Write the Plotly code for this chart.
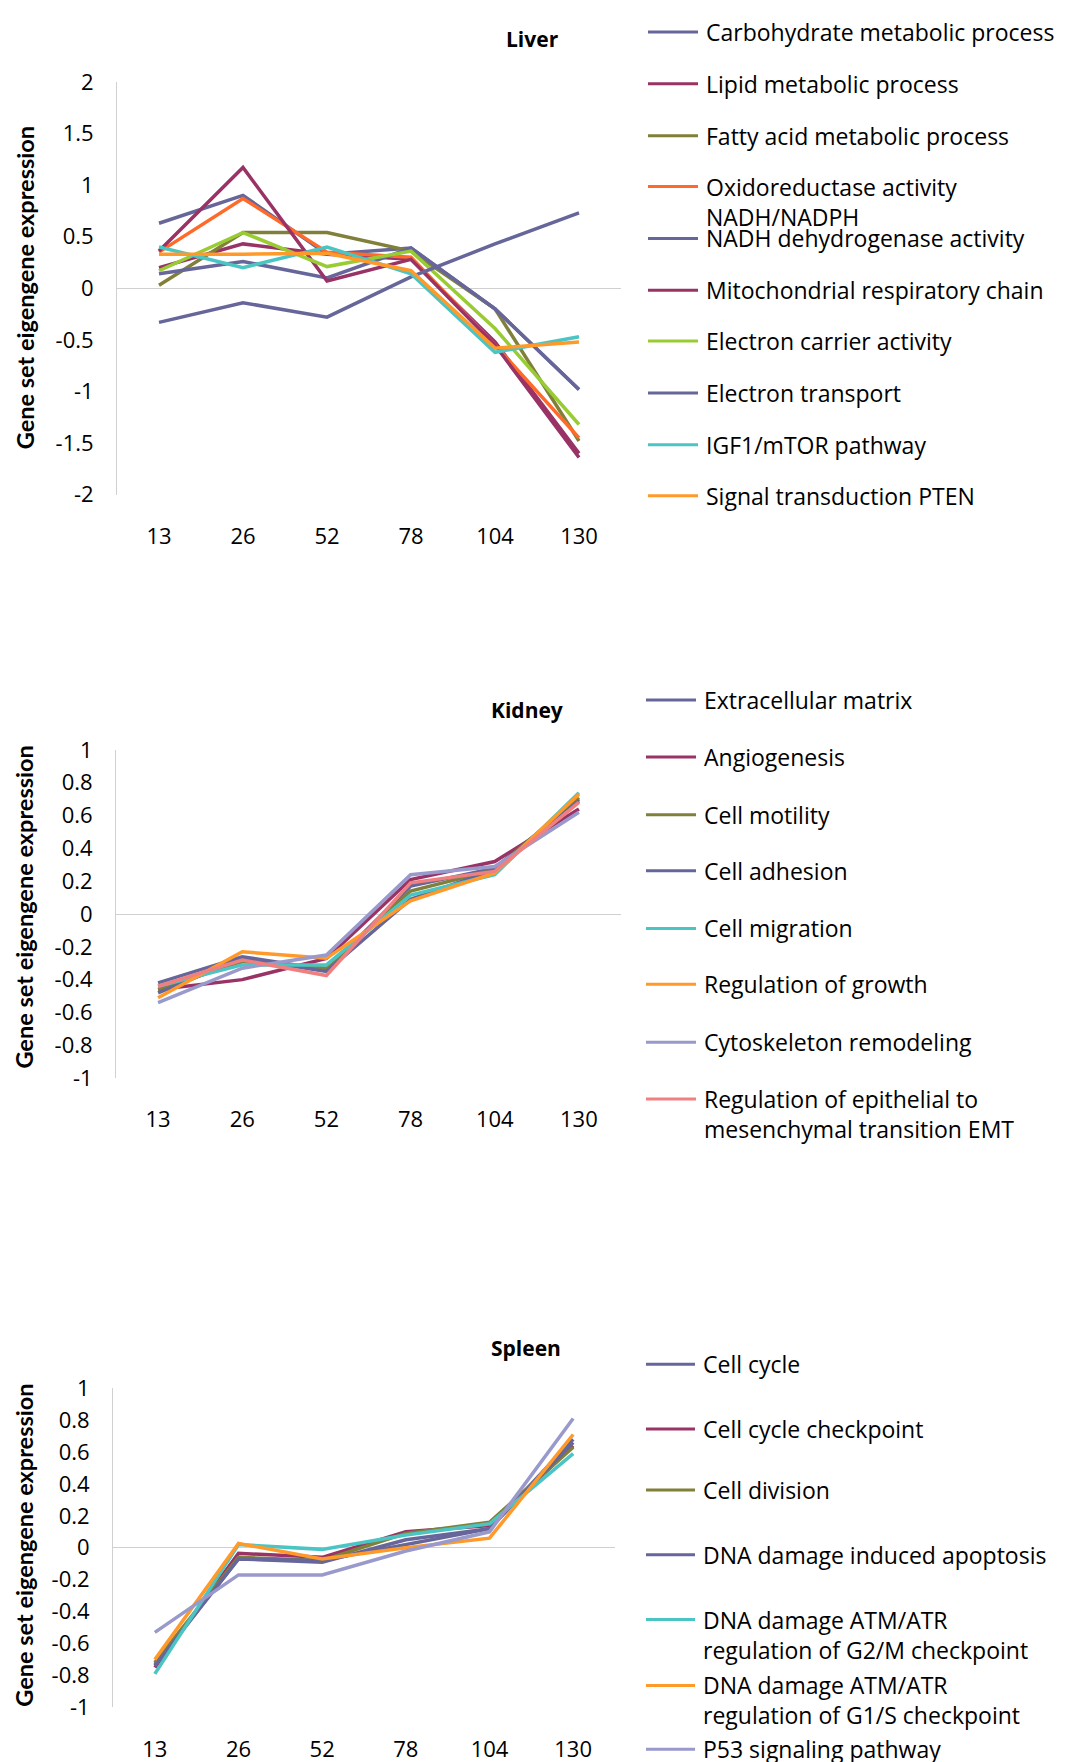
import plotly.graph_objects as go

weeks = ["13", "26", "52", "78", "104", "130"]
liver_ticks = [-2, -1.5, -1, -0.5, 0, 0.5, 1, 1.5, 2]
organ_ticks = [-1, -0.8, -0.6, -0.4, -0.2, 0, 0.2, 0.4, 0.6, 0.8, 1]

# ---------------- Liver ----------------
liver_names = [
    "Carbohydrate metabolic process",
    "Lipid metabolic process",
    "Fatty acid metabolic process",
    "Oxidoreductase activity<br>NADH/NADPH",
    "NADH dehydrogenase activity",
    "Mitochondrial respiratory chain",
    "Electron carrier activity",
    "Electron transport",
    "IGF1/mTOR pathway",
    "Signal transduction PTEN",
]
liver_carbohydrate = [0.63, 0.90, 0.33, 0.39, -0.20, -0.98]
liver_lipid = [0.20, 0.43, 0.33, 0.28, -0.52, -1.60]
liver_fatty_acid = [0.03, 0.54, 0.54, 0.36, -0.20, -1.48]
liver_oxidoreductase = [0.35, 0.87, 0.35, 0.30, -0.55, -1.45]
liver_nadh = [0.14, 0.26, 0.10, 0.39, -0.20, -0.98]
liver_mito = [0.36, 1.17, 0.07, 0.28, -0.55, -1.64]
liver_e_carrier = [0.17, 0.54, 0.21, 0.36, -0.39, -1.32]
liver_e_transport = [-0.33, -0.14, -0.28, 0.11, 0.43, 0.73]
liver_igf1 = [0.40, 0.20, 0.40, 0.14, -0.62, -0.47]
liver_pten = [0.33, 0.33, 0.34, 0.17, -0.58, -0.52]
liver_values = [liver_carbohydrate, liver_lipid, liver_fatty_acid, liver_oxidoreductase,
                liver_nadh, liver_mito, liver_e_carrier, liver_e_transport, liver_igf1, liver_pten]
liver_colors = ["#66669A", "#993366", "#80803A", "#FF6A2A", "#66669A",
                "#993366", "#99CC33", "#66669A", "#4BC4C4", "#FF9A2A"]

# ---------------- Kidney ----------------
kidney_names = [
    "Extracellular matrix",
    "Angiogenesis",
    "Cell motility",
    "Cell adhesion",
    "Cell migration",
    "Regulation of growth",
    "Cytoskeleton remodeling",
    "Regulation of epithelial to<br>mesenchymal transition EMT",
]
kidney_ecm = [-0.42, -0.26, -0.34, 0.17, 0.28, 0.70]
kidney_angio = [-0.46, -0.40, -0.27, 0.21, 0.32, 0.64]
kidney_motility = [-0.46, -0.29, -0.33, 0.14, 0.27, 0.71]
kidney_adhesion = [-0.48, -0.27, -0.35, 0.09, 0.27, 0.69]
kidney_migration = [-0.44, -0.31, -0.31, 0.115, 0.24, 0.74]
kidney_growth = [-0.51, -0.23, -0.27, 0.08, 0.25, 0.73]
kidney_cytoskeleton = [-0.54, -0.33, -0.25, 0.24, 0.29, 0.62]
kidney_emt = [-0.44, -0.28, -0.375, 0.19, 0.26, 0.68]
kidney_values = [kidney_ecm, kidney_angio, kidney_motility, kidney_adhesion,
                 kidney_migration, kidney_growth, kidney_cytoskeleton, kidney_emt]
kidney_colors = ["#66669A", "#993366", "#80803A", "#66669A", "#4BC4C4",
                 "#FF9A2A", "#9999CC", "#F08080"]

# ---------------- Spleen ----------------
spleen_names = [
    "Cell cycle",
    "Cell cycle checkpoint",
    "Cell division",
    "DNA damage induced apoptosis",
    "DNA damage ATM/ATR<br>regulation of G2/M checkpoint",
    "DNA damage ATM/ATR<br>regulation of G1/S checkpoint",
    "P53 signaling pathway",
]
spleen_cycle = [-0.73, -0.07, -0.09, 0.05, 0.12, 0.68]
spleen_checkpoint = [-0.75, -0.035, -0.06, 0.10, 0.14, 0.64]
spleen_division = [-0.72, -0.06, -0.08, 0.09, 0.16, 0.63]
spleen_apoptosis = [-0.74, -0.07, -0.08, 0.02, 0.12, 0.66]
spleen_g2m = [-0.79, 0.02, -0.01, 0.08, 0.15, 0.59]
spleen_g1s = [-0.70, 0.027, -0.07, 0.0, 0.06, 0.71]
spleen_p53 = [-0.53, -0.17, -0.17, -0.02, 0.10, 0.81]
spleen_values = [spleen_cycle, spleen_checkpoint, spleen_division, spleen_apoptosis,
                 spleen_g2m, spleen_g1s, spleen_p53]
spleen_colors = ["#66669A", "#993366", "#80803A", "#66669A", "#4BC4C4",
                 "#FF9A2A", "#9999CC"]

W, H = 1067, 1762
FONT = "Open Sans"
TFONT = "Lato"

# The captured page sits slightly offset / compressed relative to the figure;
# these convert a target position in the picture to figure pixels.
X_OFF = 8.0
Y_OFF = 20.0
Y_SCALE = 0.9857


def fx(t):
    return t - X_OFF


def fy(t):
    return (t - Y_OFF) / Y_SCALE


def px(t):
    return fx(t) / W


def py(t):
    return 1 - fy(t) / H


def fmt(v):
    s = "%g" % round(v, 2)
    return "0" if s in ("-0", "0") else s


fig = go.Figure()

panels = [
    dict(ax="", names=liver_names, values=liver_values, colors=liver_colors,
         xd=(117, 621), yd=(78, 492), yr=(-2, 2), ticks=liver_ticks, title="Liver",
         tpos=(532, 20), ytpos=(25, 285),
         leg_y=[28, 80, 132, 183, 235, 287, 338, 390, 442, 493],
         sw=(648, 698), tx=704),
    dict(ax="2", names=kidney_names, values=kidney_values, colors=kidney_colors,
         xd=(116, 621), yd=(748, 1077), yr=(-1, 1), ticks=organ_ticks, title="Kidney",
         tpos=(527, 708), ytpos=(24, 906),
         leg_y=[698, 755, 813, 869, 927, 983, 1041, 1098],
         sw=(646, 696), tx=702),
    dict(ax="3", names=spleen_names, values=spleen_values, colors=spleen_colors,
         xd=(113, 615), yd=(1388, 1708), yr=(-1, 1), ticks=organ_ticks, title="Spleen",
         tpos=(526, 1348), ytpos=(24, 1546),
         leg_y=[1364, 1429, 1490, 1555, 1620, 1686, 1750],
         sw=(646, 695), tx=701),
]

annotations = []
shapes = []
layout_axes = {}

for p in panels:
    xa = "x" + p["ax"]
    ya = "y" + p["ax"]
    for name, vals, col in zip(p["names"], p["values"], p["colors"]):
        fig.add_trace(go.Scatter(
            x=weeks, y=vals, mode="lines", name=name.replace("<br>", " "),
            line=dict(color=col, width=3.5), xaxis=xa, yaxis=ya, showlegend=False,
        ))
    layout_axes["xaxis" + p["ax"]] = dict(
        domain=[max(0, px(p["xd"][0])), px(p["xd"][1])], anchor=ya, type="category",
        range=[-0.5, 5.5], showgrid=False, showline=False, zeroline=False,
        ticks="outside", ticklen=22, tickcolor="rgba(0,0,0,0)",
        tickfont=dict(family=FONT, size=22, color="#000000"), fixedrange=True,
    )
    layout_axes["yaxis" + p["ax"]] = dict(
        domain=[py(p["yd"][1]), min(1, py(p["yd"][0]))], anchor=xa, range=list(p["yr"]),
        tickvals=p["ticks"], ticktext=[fmt(t) for t in p["ticks"]],
        showgrid=False, showline=True, linecolor="#D0D0D0", linewidth=1,
        zeroline=True, zerolinecolor="#D0D0D0", zerolinewidth=1,
        ticks="outside", ticklen=18, tickcolor="rgba(0,0,0,0)",
        tickfont=dict(family=FONT, size=22, color="#000000"), fixedrange=True,
    )
    # panel title
    ty = fy(p["tpos"][1])
    if ty < 16:
        annotations.append(dict(
            text="<b>%s</b>" % p["title"], x=px(p["tpos"][0]), y=1.0,
            xref="paper", yref="paper", xanchor="center", yanchor="top", showarrow=False,
            borderpad=0, font=dict(family=FONT, size=21, color="#000000"),
        ))
    else:
        annotations.append(dict(
            text="<b>%s</b>" % p["title"], x=px(p["tpos"][0]), y=py(p["tpos"][1]),
            xref="paper", yref="paper", xanchor="center", yanchor="middle", showarrow=False,
            font=dict(family=FONT, size=21, color="#000000"),
        ))
    # y-axis title
    annotations.append(dict(
        text="<b>Gene set eigengene expression</b>", x=px(p["ytpos"][0]), y=py(p["ytpos"][1]),
        xref="paper", yref="paper", xanchor="center", yanchor="middle", showarrow=False,
        textangle=-90, font=dict(family=TFONT, size=23.5, color="#000000"),
    ))
    # legend
    for name, col, ly in zip(p["names"], p["colors"], p["leg_y"]):
        shapes.append(dict(
            type="line", xref="paper", yref="paper",
            x0=px(p["sw"][0]), x1=px(p["sw"][1]), y0=py(ly), y1=py(ly),
            line=dict(color=col, width=3),
        ))
        nlines = name.count("<br>") + 1
        cy = ly + 15 * (nlines - 1)
        annotations.append(dict(
            text=name, x=px(p["tx"]), y=py(cy), xref="paper", yref="paper",
            xanchor="left", yanchor="middle", align="left", showarrow=False,
            font=dict(family=FONT, size=23, color="#000000"),
        ))

fig.update_layout(
    width=W, height=H, margin=dict(l=0, r=0, t=0, b=0),
    paper_bgcolor="white", plot_bgcolor="white",
    showlegend=False, annotations=annotations, shapes=shapes,
    **layout_axes,
)

fig.write_html("out.html")
